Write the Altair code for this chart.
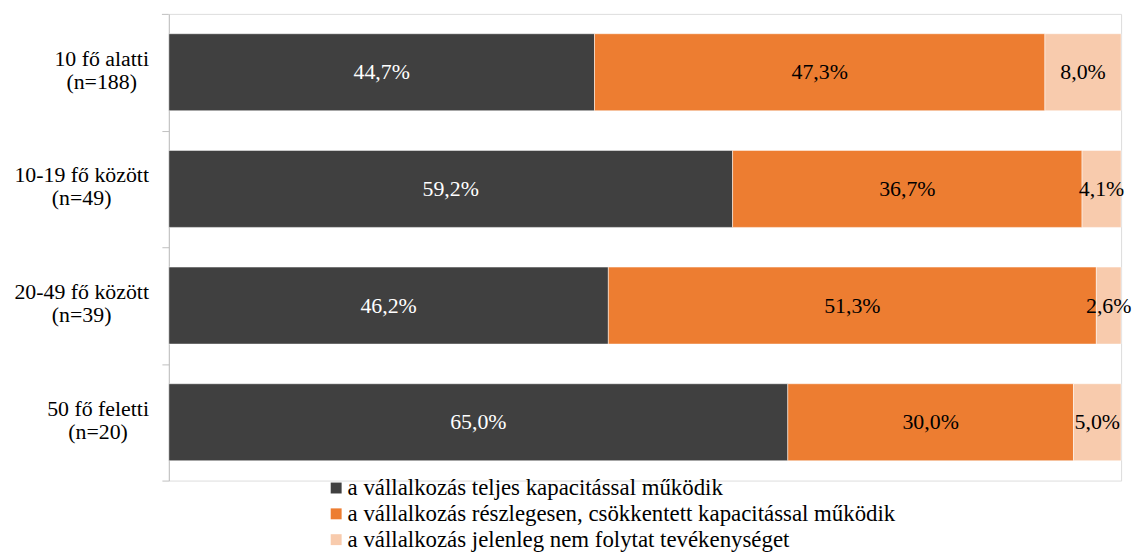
import altair as alt
import pandas as pd

categories = ["10 fő alatti", "10-19 fő között", "20-49 fő között", "50 fő feletti"]
sample_sizes = ["(n=188)", "(n=49)", "(n=39)", "(n=20)"]
series = [
    "a vállalkozás teljes kapacitással működik",
    "a vállalkozás részlegesen, csökkentett kapacitással működik",
    "a vállalkozás jelenleg nem folytat tevékenységet",
]
full_capacity = [44.7, 59.2, 46.2, 65.0]
reduced_capacity = [47.3, 36.7, 51.3, 30.0]
not_operating = [8.0, 4.1, 2.6, 5.0]
colors = ["#404040", "#ED7D31", "#F8CBAD"]
label_colors = ["#FFFFFF", "#000000", "#000000"]

rows = []
for ci, cat in enumerate(categories):
    for si, vals in enumerate([full_capacity, reduced_capacity, not_operating]):
        v = vals[ci]
        rows.append({
            "cat": cat,
            "series": series[si],
            "o": si,
            "v": v,
            "lbl": f"{v:.1f}".replace(".", ",") + "%",
        })
df = pd.DataFrame(rows)

FONT = "Times New Roman, Liberation Serif, serif"
FS = 22
LFS = 23

# Times / Liberation Serif advance widths (1/1000 em) for centring second label line
_w = {" ": 250, "f": 333, "ő": 500, "a": 444, "l": 278, "t": 278, "i": 278,
      "-": 333, "k": 500, "ö": 500, "z": 444, "e": 444}
def text_width(s):
    return sum(_w.get(c, 500) for c in s) * FS / 1000.0

base = alt.Chart(df).transform_stack(
    stack="v", groupby=["cat"], as_=["x0", "x1"], offset="normalize",
    sort=[alt.SortField("o", order="ascending")],
).transform_calculate(mid="(datum.x0 + datum.x1) / 2")

yenc = alt.Y("cat:N", sort=categories, title=None,
             scale=alt.Scale(paddingInner=0.34, paddingOuter=0.17),
             axis=alt.Axis(labels=False, domainColor="#BFBFBF", tickColor="#BFBFBF",
                           tickSize=7, bandPosition=1, tickOffset=20,
                           domainWidth=1, tickWidth=1))

bars = base.mark_bar(stroke="white", strokeWidth=0.5).encode(
    x=alt.X("x0:Q", axis=None, scale=alt.Scale(domain=[0, 1], nice=False)),
    x2="x1:Q",
    y=yenc,
    color=alt.Color("series:N", sort=series,
                    scale=alt.Scale(domain=series, range=colors),
                    legend=alt.Legend(orient="none", legendX=157, legendY=466, title=None,
                                      direction="vertical", symbolType="square",
                                      symbolSize=121, symbolStrokeWidth=0,
                                      labelFont=FONT, labelFontSize=LFS, labelColor="#000000",
                                      labelLimit=800, labelOffset=0, rowPadding=2, padding=0)),
    order=alt.Order("o:Q"),
)

texts = base.mark_text(font=FONT, fontSize=FS, baseline="middle", align="center").encode(
    x=alt.X("mid:Q"),
    y=alt.Y("cat:N", sort=categories),
    text="lbl:N",
    color=alt.Color("series:N", scale=alt.Scale(domain=series, range=label_colors), legend=None),
)

# top tick of the category axis
top_tick = alt.Chart(pd.DataFrame({"a": [0]})).mark_rule(color="#BFBFBF", strokeWidth=1).encode(
    x=alt.value(-7), x2=alt.value(0), y=alt.value(0.5))

cat_df = pd.DataFrame({"cat": categories, "n": sample_sizes})
layers = [bars, texts, top_tick]
for cat, n in zip(categories, sample_sizes):
    w = text_width(cat)
    sub = alt.Chart(cat_df).transform_filter(alt.datum.cat == cat)
    layers.append(sub.mark_text(font=FONT, fontSize=FS, align="right", baseline="alphabetic",
                                dy=-6.5, color="#000000").encode(
        x=alt.value(-20), y=alt.Y("cat:N", sort=categories), text="cat:N"))
    layers.append(sub.mark_text(font=FONT, fontSize=FS, align="center", baseline="alphabetic",
                                dy=16.5, color="#000000").encode(
        x=alt.value(-20 - w / 2), y=alt.Y("cat:N", sort=categories), text="n:N"))

chart = alt.layer(*layers).resolve_scale(color="independent").properties(
    width=959, height=470,
    autosize=alt.AutoSizeParams(type="none"),
    padding={"left": 162, "top": 4, "right": 13, "bottom": 70},
).configure_view(stroke=None).configure(background="white", font=FONT)

chart.save("out.html", embed_options={"renderer": "svg", "actions": False})
